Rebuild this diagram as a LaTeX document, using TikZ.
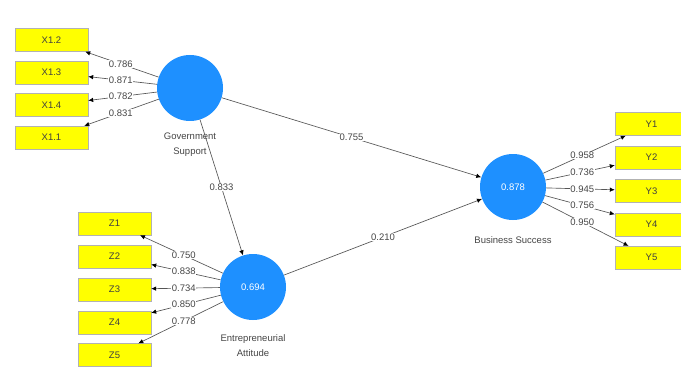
\documentclass[tikz,border=0pt]{standalone}
\usepackage{fontspec}
\setmainfont{Liberation Sans}
\usetikzlibrary{arrows.meta}
\definecolor{plsblue}{RGB}{30,144,255}
\definecolor{plsyellow}{RGB}{255,255,0}
\definecolor{lineg}{RGB}{85,85,85}
\definecolor{txtg}{RGB}{70,70,70}
\begin{document}
\begin{tikzpicture}[x=1pt,y=-1pt,
  ind/.style={draw=black!30, fill=plsyellow, minimum width=73pt, minimum height=23pt, inner sep=0pt, font=\fontsize{9.5}{11}\selectfont, text=black!75},
  lat/.style={circle, fill=plsblue, minimum size=66pt, inner sep=0pt, text=white, font=\fontsize{9.5}{11}\selectfont},
  captext/.style={font=\fontsize{9.5}{15}\selectfont, text=txtg, align=center},
  arr/.style={draw=lineg, line width=0.65pt, -{Latex[length=5pt,width=4.5pt,black]}},
  lbl/.style={fill=white, inner sep=0.5pt, font=\fontsize{9.5}{11}\selectfont, text=txtg}
]
\useasboundingbox[fill=white] (0,0) rectangle (681,369);

% latent variables
\node[lat] (GS) at (190,88) {};
\node[lat] (EA) at (253,287) {0.694};
\node[lat] (BS) at (513,187) {0.878};
\node[captext] (GScap) at (190,145) {Government\\Support};
\node[captext] (EAcap) at (253,346) {Entrepreneurial\\Attitude};
\node[captext] (BScap) at (513,240) {Business Success};

% indicators X
\node[ind] (X12) at (51.5,40) {X1.2};
\node[ind] (X13) at (51.5,72.5) {X1.3};
\node[ind] (X14) at (51.5,105) {X1.4};
\node[ind] (X11) at (51.5,137.5) {X1.1};
% indicators Z
\node[ind] (Z1) at (114.5,223.5) {Z1};
\node[ind] (Z2) at (114.5,256.4) {Z2};
\node[ind] (Z3) at (114.5,289.3) {Z3};
\node[ind] (Z4) at (114.5,322.2) {Z4};
\node[ind] (Z5) at (114.5,355.1) {Z5};
% indicators Y
\node[ind] (Y1) at (651.5,124) {Y1};
\node[ind] (Y2) at (651.5,157.4) {Y2};
\node[ind] (Y3) at (651.5,190.8) {Y3};
\node[ind] (Y4) at (651.5,224.2) {Y4};
\node[ind] (Y5) at (651.5,257.6) {Y5};

% outer loadings
\draw[arr] (GS) -- (X12);
\draw[arr] (GS) -- (X13);
\draw[arr] (GS) -- (X14);
\draw[arr] (GS) -- (X11);
\draw[arr] (EA) -- (Z1);
\draw[arr] (EA) -- (Z2);
\draw[arr] (EA) -- (Z3);
\draw[arr] (EA) -- (Z4);
\draw[arr] (EA) -- (Z5);
\draw[arr] (BS) -- (Y1);
\draw[arr] (BS) -- (Y2);
\draw[arr] (BS) -- (Y3);
\draw[arr] (BS) -- (Y4);
\draw[arr] (BS) -- (Y5);
% paths
\draw[arr] (GS) -- (BS);
\draw[arr] (GS) -- (EA);
\draw[arr] (EA) -- (BS);

% labels
\path (GS.center) -- node[lbl] {0.786} (X12.center);
\path (GS.center) -- node[lbl] {0.871} (X13.center);
\path (GS.center) -- node[lbl] {0.782} (X14.center);
\path (GS.center) -- node[lbl] {0.831} (X11.center);
\path (EA.center) -- node[lbl] {0.750} (Z1.center);
\path (EA.center) -- node[lbl] {0.838} (Z2.center);
\path (EA.center) -- node[lbl] {0.734} (Z3.center);
\path (EA.center) -- node[lbl] {0.850} (Z4.center);
\path (EA.center) -- node[lbl] {0.778} (Z5.center);
\path (BS.center) -- node[lbl] {0.958} (Y1.center);
\path (BS.center) -- node[lbl] {0.736} (Y2.center);
\path (BS.center) -- node[lbl] {0.945} (Y3.center);
\path (BS.center) -- node[lbl] {0.756} (Y4.center);
\path (BS.center) -- node[lbl] {0.950} (Y5.center);
\path (GS.center) -- node[lbl] {0.755} (BS.center);
\path (GS.center) -- node[lbl] {0.833} (EA.center);
\path (EA.center) -- node[lbl] {0.210} (BS.center);
\end{tikzpicture}
\end{document}
